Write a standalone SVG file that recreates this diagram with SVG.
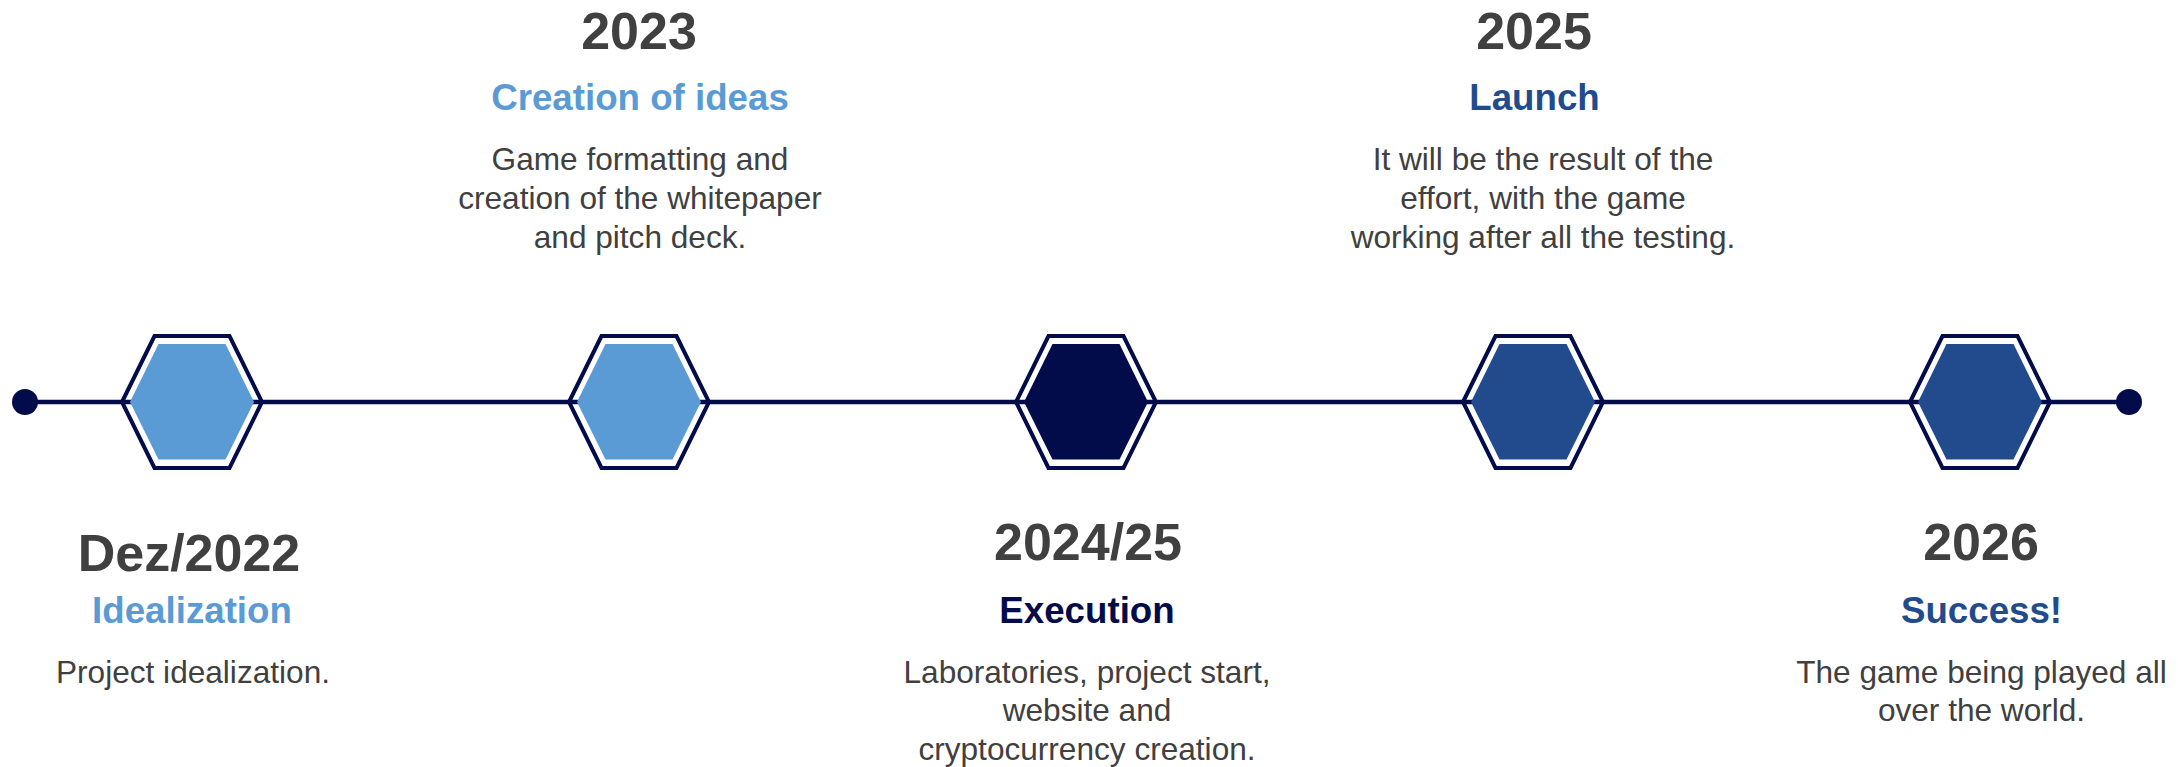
<svg xmlns="http://www.w3.org/2000/svg" xmlns:xlink="http://www.w3.org/1999/xlink" width="2178" height="767" viewBox="0 0 2178 767">
  <style>
    .year { font-family: "Liberation Sans", Arial, sans-serif; font-weight: bold; font-size: 52px; fill: #404040; text-anchor: middle; }
    .title { font-family: "Liberation Sans", Arial, sans-serif; font-weight: bold; font-size: 36.7px; text-anchor: middle; }
    .desc { font-family: "Liberation Sans", Arial, sans-serif; font-size: 31.6px; fill: #404040; text-anchor: middle; }
    .outer { fill: none; stroke: #020C4B; stroke-width: 4; stroke-linejoin: miter; }
    .light { fill: #5B9BD5; }
    .navy { fill: #020C4B; }
    .mid { fill: #224B8E; }
  </style>
  <defs>
    <polygon id="hexOuter" points="-70,0 -37.5,-66 37.5,-66 70,0 37.5,66 -37.5,66"/>
    <polygon id="hexInner" points="-62,0 -33.5,-58 33.5,-58 62,0 33.5,57.5 -33.5,57.5"/>
  </defs>
  <rect width="2178" height="767" fill="#FFFFFF"/>

  <g id="connectors">
    <line x1="25" y1="402" x2="2129" y2="402" stroke="#020C4B" stroke-width="4.5"/>
    <circle cx="25" cy="402" r="13" fill="#020C4B"/>
    <circle cx="2129" cy="402" r="13" fill="#020C4B"/>
  </g>

  <g id="node-dez2022">
    <g transform="translate(192,402)">
      <use xlink:href="#hexOuter" class="outer"/>
      <use xlink:href="#hexInner" class="light"/>
    </g>
    <text class="year" x="189" y="571">Dez/2022</text>
    <text class="title" x="192" y="623" fill="#5B9BD5">Idealization</text>
    <text class="desc" x="193" y="683">Project idealization.</text>
  </g>

  <g id="node-2023">
    <g transform="translate(639,402)">
      <use xlink:href="#hexOuter" class="outer"/>
      <use xlink:href="#hexInner" class="light"/>
    </g>
    <text class="year" x="639" y="48.5">2023</text>
    <text class="title" x="640" y="110" fill="#5B9BD5">Creation of ideas</text>
    <text class="desc" x="640" y="170">Game formatting and</text>
    <text class="desc" x="640" y="209">creation of the whitepaper</text>
    <text class="desc" x="640" y="248">and pitch deck.</text>
  </g>

  <g id="node-2024-25">
    <g transform="translate(1086,402)">
      <use xlink:href="#hexOuter" class="outer"/>
      <use xlink:href="#hexInner" class="navy"/>
    </g>
    <text class="year" x="1088" y="560">2024/25</text>
    <text class="title" x="1087" y="622.7" fill="#020C4B">Execution</text>
    <text class="desc" x="1087" y="682.5">Laboratories, project start,</text>
    <text class="desc" x="1087" y="721">website and</text>
    <text class="desc" x="1087" y="759.5">cryptocurrency creation.</text>
  </g>

  <g id="node-2025">
    <g transform="translate(1533,402)">
      <use xlink:href="#hexOuter" class="outer"/>
      <use xlink:href="#hexInner" class="mid"/>
    </g>
    <text class="year" x="1534" y="48.5">2025</text>
    <text class="title" x="1534.5" y="110" fill="#224B8E">Launch</text>
    <text class="desc" x="1543" y="170">It will be the result of the</text>
    <text class="desc" x="1543" y="209">effort, with the game</text>
    <text class="desc" x="1543" y="248">working after all the testing.</text>
  </g>

  <g id="node-2026">
    <g transform="translate(1980,402)">
      <use xlink:href="#hexOuter" class="outer"/>
      <use xlink:href="#hexInner" class="mid"/>
    </g>
    <text class="year" x="1981" y="560">2026</text>
    <text class="title" x="1981.5" y="622.7" fill="#224B8E">Success!</text>
    <text class="desc" x="1981.5" y="682.5">The game being played all</text>
    <text class="desc" x="1981.5" y="721">over the world.</text>
  </g>
</svg>
